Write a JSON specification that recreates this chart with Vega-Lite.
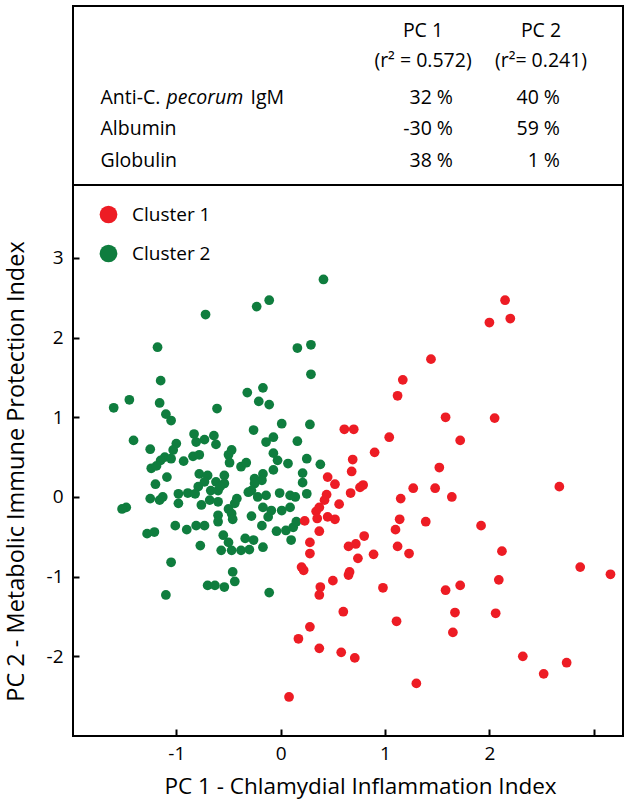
{
  "$schema": "https://vega.github.io/schema/vega-lite/v6.json",
  "padding": {"left": 2, "top": 5, "right": 5, "bottom": 5},
  "bounds": "flush",
  "spacing": 0,
  "config": {
    "font": "Open Sans",
    "view": {"stroke": "#000000", "strokeWidth": 2},
    "axis": {
      "labelFont": "Open Sans", "labelFontSize": 19, "labelColor": "#000000",
      "titleFont": "Open Sans", "titleFontSize": 22.5, "titleFontWeight": "normal", "titleColor": "#000000",
      "tickColor": "#000000", "tickWidth": 2, "domain": false, "grid": false
    },
    "legend": {
      "orient": "none", "legendX": 26, "legendY": 199, "padding": 0,
      "symbolSize": 314, "symbolType": "circle", "symbolStrokeWidth": 0,
      "labelFont": "Open Sans", "labelFontSize": 19, "labelColor": "#000000",
      "labelOffset": 14, "rowPadding": 19
    }
  },
  "vconcat": [
    {
      "width": 550,
      "height": 179,
      "layer": [
        {
          "data": {"values": [
            {"col": "PC 1", "line": "name", "text": "PC 1"},
            {"col": "PC 1", "line": "r2", "text": "(r² = 0.572)"},
            {"col": "PC 2", "line": "name", "text": "PC 2"},
            {"col": "PC 2", "line": "r2", "text": "(r²= 0.241)"}
          ]},
          "mark": {"type": "text", "align": "center", "baseline": "alphabetic", "fontSize": 19.5, "color": "#000000"},
          "encoding": {
            "x": {"field": "col", "type": "nominal", "scale": {"type": "point", "padding": 0, "domain": ["PC 1", "PC 2"], "range": [350, 468]}, "axis": null},
            "y": {"field": "line", "type": "nominal", "scale": {"type": "point", "padding": 0, "domain": ["name", "r2"], "range": [30.7, 60.7]}, "axis": null},
            "text": {"field": "text", "type": "nominal"}
          }
        },
        {
          "data": {"values": [
            {"variable": "Anti-C. pecorum IgM", "col": "PC 1", "value": "32 %"},
            {"variable": "Anti-C. pecorum IgM", "col": "PC 2", "value": "40 %"},
            {"variable": "Albumin", "col": "PC 1", "value": "-30 %"},
            {"variable": "Albumin", "col": "PC 2", "value": "59 %"},
            {"variable": "Globulin", "col": "PC 1", "value": "38 %"},
            {"variable": "Globulin", "col": "PC 2", "value": "1 %"}
          ]},
          "mark": {"type": "text", "align": "right", "baseline": "alphabetic", "fontSize": 19.5, "color": "#000000"},
          "encoding": {
            "x": {"field": "col", "type": "nominal", "scale": {"type": "point", "padding": 0, "domain": ["PC 1", "PC 2"], "range": [380, 487]}, "axis": null},
            "y": {"field": "variable", "type": "nominal", "scale": {"type": "point", "padding": 0, "domain": ["Anti-C. pecorum IgM", "Albumin", "Globulin"], "range": [98, 160.7]}, "axis": null},
            "text": {"field": "value", "type": "nominal"}
          }
        },
        {
          "data": {"values": [
            {"variable": "Anti-C. pecorum IgM", "col": "Variable", "text": "Anti-C."},
            {"variable": "Albumin", "col": "Variable", "text": "Albumin"},
            {"variable": "Globulin", "col": "Variable", "text": "Globulin"}
          ]},
          "mark": {"type": "text", "align": "left", "baseline": "alphabetic", "fontSize": 19.5, "color": "#000000"},
          "encoding": {
            "x": {"field": "col", "type": "nominal", "scale": {"type": "point", "padding": 0, "domain": ["Variable"], "range": [27.5, 27.5]}, "axis": null},
            "y": {"field": "variable", "type": "nominal", "scale": {"type": "point", "padding": 0, "domain": ["Anti-C. pecorum IgM", "Albumin", "Globulin"], "range": [98, 160.7]}, "axis": null},
            "text": {"field": "text", "type": "nominal"}
          }
        },
        {
          "data": {"values": [
            {"variable": "Anti-C. pecorum IgM", "col": "Variable", "text": "pecorum"}
          ]},
          "mark": {"type": "text", "align": "left", "baseline": "alphabetic", "fontSize": 19.5, "fontStyle": "italic", "dx": 66, "color": "#000000"},
          "encoding": {
            "x": {"field": "col", "type": "nominal", "scale": {"type": "point", "padding": 0, "domain": ["Variable"], "range": [27.5, 27.5]}, "axis": null},
            "y": {"field": "variable", "type": "nominal", "scale": {"type": "point", "padding": 0, "domain": ["Anti-C. pecorum IgM", "Albumin", "Globulin"], "range": [98, 160.7]}, "axis": null},
            "text": {"field": "text", "type": "nominal"}
          }
        },
        {
          "data": {"values": [
            {"variable": "Anti-C. pecorum IgM", "col": "Variable", "text": "IgM"}
          ]},
          "mark": {"type": "text", "align": "left", "baseline": "alphabetic", "fontSize": 19.5, "dx": 150, "color": "#000000"},
          "encoding": {
            "x": {"field": "col", "type": "nominal", "scale": {"type": "point", "padding": 0, "domain": ["Variable"], "range": [27.5, 27.5]}, "axis": null},
            "y": {"field": "variable", "type": "nominal", "scale": {"type": "point", "padding": 0, "domain": ["Anti-C. pecorum IgM", "Albumin", "Globulin"], "range": [98, 160.7]}, "axis": null},
            "text": {"field": "text", "type": "nominal"}
          }
        }
      ],
      "resolve": {"scale": {"x": "independent", "y": "independent"}}
    },
    {
      "width": 550,
      "height": 551,
      "data": {"values": [
        {"pc1": 0.41, "pc2": 2.73, "cluster": "Cluster 2"},
        {"pc1": -0.23, "pc2": 2.39, "cluster": "Cluster 2"},
        {"pc1": -0.11, "pc2": 2.47, "cluster": "Cluster 2"},
        {"pc1": -0.72, "pc2": 2.29, "cluster": "Cluster 2"},
        {"pc1": -1.18, "pc2": 1.88, "cluster": "Cluster 2"},
        {"pc1": 0.16, "pc2": 1.87, "cluster": "Cluster 2"},
        {"pc1": 0.29, "pc2": 1.91, "cluster": "Cluster 2"},
        {"pc1": 0.29, "pc2": 1.54, "cluster": "Cluster 2"},
        {"pc1": -1.15, "pc2": 1.46, "cluster": "Cluster 2"},
        {"pc1": -0.32, "pc2": 1.31, "cluster": "Cluster 2"},
        {"pc1": -0.17, "pc2": 1.37, "cluster": "Cluster 2"},
        {"pc1": -1.45, "pc2": 1.22, "cluster": "Cluster 2"},
        {"pc1": -1.60, "pc2": 1.12, "cluster": "Cluster 2"},
        {"pc1": -1.16, "pc2": 1.18, "cluster": "Cluster 2"},
        {"pc1": -0.21, "pc2": 1.20, "cluster": "Cluster 2"},
        {"pc1": -0.11, "pc2": 1.16, "cluster": "Cluster 2"},
        {"pc1": -0.61, "pc2": 1.11, "cluster": "Cluster 2"},
        {"pc1": -1.10, "pc2": 1.04, "cluster": "Cluster 2"},
        {"pc1": -1.05, "pc2": 0.96, "cluster": "Cluster 2"},
        {"pc1": 0.01, "pc2": 0.92, "cluster": "Cluster 2"},
        {"pc1": 0.28, "pc2": 0.91, "cluster": "Cluster 2"},
        {"pc1": -0.26, "pc2": 0.84, "cluster": "Cluster 2"},
        {"pc1": -1.41, "pc2": 0.71, "cluster": "Cluster 2"},
        {"pc1": -0.83, "pc2": 0.79, "cluster": "Cluster 2"},
        {"pc1": -0.81, "pc2": 0.69, "cluster": "Cluster 2"},
        {"pc1": -0.73, "pc2": 0.72, "cluster": "Cluster 2"},
        {"pc1": -0.64, "pc2": 0.77, "cluster": "Cluster 2"},
        {"pc1": -0.62, "pc2": 0.66, "cluster": "Cluster 2"},
        {"pc1": -1.00, "pc2": 0.67, "cluster": "Cluster 2"},
        {"pc1": -1.03, "pc2": 0.59, "cluster": "Cluster 2"},
        {"pc1": -1.25, "pc2": 0.60, "cluster": "Cluster 2"},
        {"pc1": 0.16, "pc2": 0.70, "cluster": "Cluster 2"},
        {"pc1": -0.14, "pc2": 0.69, "cluster": "Cluster 2"},
        {"pc1": -0.07, "pc2": 0.75, "cluster": "Cluster 2"},
        {"pc1": -1.11, "pc2": 0.50, "cluster": "Cluster 2"},
        {"pc1": -1.15, "pc2": 0.46, "cluster": "Cluster 2"},
        {"pc1": -1.05, "pc2": 0.48, "cluster": "Cluster 2"},
        {"pc1": -0.93, "pc2": 0.45, "cluster": "Cluster 2"},
        {"pc1": -0.84, "pc2": 0.51, "cluster": "Cluster 2"},
        {"pc1": -0.78, "pc2": 0.53, "cluster": "Cluster 2"},
        {"pc1": -0.50, "pc2": 0.53, "cluster": "Cluster 2"},
        {"pc1": -0.47, "pc2": 0.59, "cluster": "Cluster 2"},
        {"pc1": -0.49, "pc2": 0.43, "cluster": "Cluster 2"},
        {"pc1": -0.38, "pc2": 0.38, "cluster": "Cluster 2"},
        {"pc1": -0.33, "pc2": 0.43, "cluster": "Cluster 2"},
        {"pc1": -0.07, "pc2": 0.55, "cluster": "Cluster 2"},
        {"pc1": -0.03, "pc2": 0.46, "cluster": "Cluster 2"},
        {"pc1": 0.07, "pc2": 0.42, "cluster": "Cluster 2"},
        {"pc1": 0.25, "pc2": 0.48, "cluster": "Cluster 2"},
        {"pc1": 0.38, "pc2": 0.41, "cluster": "Cluster 2"},
        {"pc1": -1.24, "pc2": 0.36, "cluster": "Cluster 2"},
        {"pc1": -1.19, "pc2": 0.39, "cluster": "Cluster 2"},
        {"pc1": -1.09, "pc2": 0.25, "cluster": "Cluster 2"},
        {"pc1": -0.78, "pc2": 0.29, "cluster": "Cluster 2"},
        {"pc1": -0.70, "pc2": 0.27, "cluster": "Cluster 2"},
        {"pc1": -0.54, "pc2": 0.27, "cluster": "Cluster 2"},
        {"pc1": -0.17, "pc2": 0.29, "cluster": "Cluster 2"},
        {"pc1": -0.07, "pc2": 0.34, "cluster": "Cluster 2"},
        {"pc1": 0.21, "pc2": 0.30, "cluster": "Cluster 2"},
        {"pc1": -0.25, "pc2": 0.23, "cluster": "Cluster 2"},
        {"pc1": 0.21, "pc2": 0.18, "cluster": "Cluster 2"},
        {"pc1": 0.25, "pc2": 0.04, "cluster": "Cluster 2"},
        {"pc1": -0.18, "pc2": 0.21, "cluster": "Cluster 2"},
        {"pc1": -0.25, "pc2": 0.17, "cluster": "Cluster 2"},
        {"pc1": -0.28, "pc2": 0.08, "cluster": "Cluster 2"},
        {"pc1": -0.14, "pc2": 0.02, "cluster": "Cluster 2"},
        {"pc1": -0.01, "pc2": 0.05, "cluster": "Cluster 2"},
        {"pc1": 0.09, "pc2": 0.02, "cluster": "Cluster 2"},
        {"pc1": 0.14, "pc2": 0.00, "cluster": "Cluster 2"},
        {"pc1": -0.73, "pc2": 0.19, "cluster": "Cluster 2"},
        {"pc1": -0.62, "pc2": 0.19, "cluster": "Cluster 2"},
        {"pc1": -0.54, "pc2": 0.17, "cluster": "Cluster 2"},
        {"pc1": -1.20, "pc2": 0.16, "cluster": "Cluster 2"},
        {"pc1": -0.79, "pc2": 0.13, "cluster": "Cluster 2"},
        {"pc1": -0.67, "pc2": 0.08, "cluster": "Cluster 2"},
        {"pc1": -0.60, "pc2": 0.08, "cluster": "Cluster 2"},
        {"pc1": -0.98, "pc2": 0.04, "cluster": "Cluster 2"},
        {"pc1": -0.89, "pc2": 0.05, "cluster": "Cluster 2"},
        {"pc1": -0.82, "pc2": 0.04, "cluster": "Cluster 2"},
        {"pc1": -1.25, "pc2": -0.02, "cluster": "Cluster 2"},
        {"pc1": -1.16, "pc2": -0.04, "cluster": "Cluster 2"},
        {"pc1": -1.13, "pc2": 0.00, "cluster": "Cluster 2"},
        {"pc1": -0.98, "pc2": -0.08, "cluster": "Cluster 2"},
        {"pc1": -0.76, "pc2": -0.10, "cluster": "Cluster 2"},
        {"pc1": -0.68, "pc2": -0.04, "cluster": "Cluster 2"},
        {"pc1": -0.60, "pc2": -0.06, "cluster": "Cluster 2"},
        {"pc1": -0.44, "pc2": -0.08, "cluster": "Cluster 2"},
        {"pc1": -0.42, "pc2": -0.02, "cluster": "Cluster 2"},
        {"pc1": -0.31, "pc2": 0.06, "cluster": "Cluster 2"},
        {"pc1": -0.22, "pc2": 0.00, "cluster": "Cluster 2"},
        {"pc1": -0.17, "pc2": -0.13, "cluster": "Cluster 2"},
        {"pc1": -0.09, "pc2": -0.17, "cluster": "Cluster 2"},
        {"pc1": 0.01, "pc2": -0.17, "cluster": "Cluster 2"},
        {"pc1": 0.09, "pc2": -0.13, "cluster": "Cluster 2"},
        {"pc1": -0.50, "pc2": -0.15, "cluster": "Cluster 2"},
        {"pc1": -0.47, "pc2": -0.21, "cluster": "Cluster 2"},
        {"pc1": -0.60, "pc2": -0.23, "cluster": "Cluster 2"},
        {"pc1": -0.60, "pc2": -0.31, "cluster": "Cluster 2"},
        {"pc1": -0.46, "pc2": -0.28, "cluster": "Cluster 2"},
        {"pc1": -0.28, "pc2": -0.24, "cluster": "Cluster 2"},
        {"pc1": -0.18, "pc2": -0.36, "cluster": "Cluster 2"},
        {"pc1": -0.12, "pc2": -0.25, "cluster": "Cluster 2"},
        {"pc1": -1.48, "pc2": -0.13, "cluster": "Cluster 2"},
        {"pc1": -1.52, "pc2": -0.15, "cluster": "Cluster 2"},
        {"pc1": -1.01, "pc2": -0.36, "cluster": "Cluster 2"},
        {"pc1": -0.90, "pc2": -0.41, "cluster": "Cluster 2"},
        {"pc1": -0.81, "pc2": -0.36, "cluster": "Cluster 2"},
        {"pc1": -0.73, "pc2": -0.36, "cluster": "Cluster 2"},
        {"pc1": -1.28, "pc2": -0.46, "cluster": "Cluster 2"},
        {"pc1": -1.21, "pc2": -0.44, "cluster": "Cluster 2"},
        {"pc1": -0.04, "pc2": -0.43, "cluster": "Cluster 2"},
        {"pc1": 0.05, "pc2": -0.42, "cluster": "Cluster 2"},
        {"pc1": 0.12, "pc2": -0.38, "cluster": "Cluster 2"},
        {"pc1": 0.15, "pc2": -0.31, "cluster": "Cluster 2"},
        {"pc1": 0.10, "pc2": -0.54, "cluster": "Cluster 2"},
        {"pc1": -0.77, "pc2": -0.61, "cluster": "Cluster 2"},
        {"pc1": -0.55, "pc2": -0.48, "cluster": "Cluster 2"},
        {"pc1": -0.50, "pc2": -0.57, "cluster": "Cluster 2"},
        {"pc1": -0.57, "pc2": -0.67, "cluster": "Cluster 2"},
        {"pc1": -0.47, "pc2": -0.67, "cluster": "Cluster 2"},
        {"pc1": -0.38, "pc2": -0.67, "cluster": "Cluster 2"},
        {"pc1": -0.34, "pc2": -0.52, "cluster": "Cluster 2"},
        {"pc1": -0.26, "pc2": -0.54, "cluster": "Cluster 2"},
        {"pc1": -0.30, "pc2": -0.66, "cluster": "Cluster 2"},
        {"pc1": -0.17, "pc2": -0.63, "cluster": "Cluster 2"},
        {"pc1": -1.05, "pc2": -0.82, "cluster": "Cluster 2"},
        {"pc1": -0.46, "pc2": -0.94, "cluster": "Cluster 2"},
        {"pc1": -0.44, "pc2": -1.06, "cluster": "Cluster 2"},
        {"pc1": -0.70, "pc2": -1.11, "cluster": "Cluster 2"},
        {"pc1": -0.63, "pc2": -1.11, "cluster": "Cluster 2"},
        {"pc1": -0.54, "pc2": -1.13, "cluster": "Cluster 2"},
        {"pc1": -1.10, "pc2": -1.23, "cluster": "Cluster 2"},
        {"pc1": -0.11, "pc2": -1.20, "cluster": "Cluster 2"},
        {"pc1": -0.58, "pc2": 0.13, "cluster": "Cluster 2"},
        {"pc1": 2.15, "pc2": 2.47, "cluster": "Cluster 1"},
        {"pc1": 2.00, "pc2": 2.19, "cluster": "Cluster 1"},
        {"pc1": 2.20, "pc2": 2.24, "cluster": "Cluster 1"},
        {"pc1": 1.44, "pc2": 1.73, "cluster": "Cluster 1"},
        {"pc1": 1.17, "pc2": 1.47, "cluster": "Cluster 1"},
        {"pc1": 1.12, "pc2": 1.27, "cluster": "Cluster 1"},
        {"pc1": 1.58, "pc2": 1.00, "cluster": "Cluster 1"},
        {"pc1": 2.05, "pc2": 0.99, "cluster": "Cluster 1"},
        {"pc1": 0.61, "pc2": 0.85, "cluster": "Cluster 1"},
        {"pc1": 0.70, "pc2": 0.85, "cluster": "Cluster 1"},
        {"pc1": 1.04, "pc2": 0.75, "cluster": "Cluster 1"},
        {"pc1": 1.72, "pc2": 0.71, "cluster": "Cluster 1"},
        {"pc1": 0.90, "pc2": 0.56, "cluster": "Cluster 1"},
        {"pc1": 0.69, "pc2": 0.47, "cluster": "Cluster 1"},
        {"pc1": 1.52, "pc2": 0.37, "cluster": "Cluster 1"},
        {"pc1": 0.68, "pc2": 0.32, "cluster": "Cluster 1"},
        {"pc1": 0.45, "pc2": 0.25, "cluster": "Cluster 1"},
        {"pc1": 0.52, "pc2": 0.16, "cluster": "Cluster 1"},
        {"pc1": 2.67, "pc2": 0.13, "cluster": "Cluster 1"},
        {"pc1": 1.27, "pc2": 0.11, "cluster": "Cluster 1"},
        {"pc1": 1.48, "pc2": 0.11, "cluster": "Cluster 1"},
        {"pc1": 1.64, "pc2": 0.00, "cluster": "Cluster 1"},
        {"pc1": 1.15, "pc2": -0.02, "cluster": "Cluster 1"},
        {"pc1": 0.79, "pc2": 0.15, "cluster": "Cluster 1"},
        {"pc1": 0.76, "pc2": 0.12, "cluster": "Cluster 1"},
        {"pc1": 0.67, "pc2": 0.05, "cluster": "Cluster 1"},
        {"pc1": 0.44, "pc2": 0.03, "cluster": "Cluster 1"},
        {"pc1": 0.42, "pc2": -0.04, "cluster": "Cluster 1"},
        {"pc1": 0.56, "pc2": -0.09, "cluster": "Cluster 1"},
        {"pc1": 0.34, "pc2": -0.18, "cluster": "Cluster 1"},
        {"pc1": 0.37, "pc2": -0.13, "cluster": "Cluster 1"},
        {"pc1": 0.45, "pc2": -0.25, "cluster": "Cluster 1"},
        {"pc1": 0.52, "pc2": -0.28, "cluster": "Cluster 1"},
        {"pc1": 0.35, "pc2": -0.27, "cluster": "Cluster 1"},
        {"pc1": 0.23, "pc2": -0.30, "cluster": "Cluster 1"},
        {"pc1": 1.14, "pc2": -0.28, "cluster": "Cluster 1"},
        {"pc1": 1.39, "pc2": -0.31, "cluster": "Cluster 1"},
        {"pc1": 1.92, "pc2": -0.36, "cluster": "Cluster 1"},
        {"pc1": 1.10, "pc2": -0.41, "cluster": "Cluster 1"},
        {"pc1": 0.37, "pc2": -0.43, "cluster": "Cluster 1"},
        {"pc1": 0.80, "pc2": -0.49, "cluster": "Cluster 1"},
        {"pc1": 0.28, "pc2": -0.57, "cluster": "Cluster 1"},
        {"pc1": 0.65, "pc2": -0.62, "cluster": "Cluster 1"},
        {"pc1": 0.72, "pc2": -0.59, "cluster": "Cluster 1"},
        {"pc1": 1.12, "pc2": -0.62, "cluster": "Cluster 1"},
        {"pc1": 0.28, "pc2": -0.71, "cluster": "Cluster 1"},
        {"pc1": 0.74, "pc2": -0.77, "cluster": "Cluster 1"},
        {"pc1": 0.89, "pc2": -0.72, "cluster": "Cluster 1"},
        {"pc1": 1.23, "pc2": -0.71, "cluster": "Cluster 1"},
        {"pc1": 2.12, "pc2": -0.68, "cluster": "Cluster 1"},
        {"pc1": 2.87, "pc2": -0.88, "cluster": "Cluster 1"},
        {"pc1": 3.16, "pc2": -0.97, "cluster": "Cluster 1"},
        {"pc1": 0.22, "pc2": -0.92, "cluster": "Cluster 1"},
        {"pc1": 0.20, "pc2": -0.88, "cluster": "Cluster 1"},
        {"pc1": 0.65, "pc2": -0.98, "cluster": "Cluster 1"},
        {"pc1": 0.66, "pc2": -0.94, "cluster": "Cluster 1"},
        {"pc1": 0.50, "pc2": -1.05, "cluster": "Cluster 1"},
        {"pc1": 2.09, "pc2": -1.04, "cluster": "Cluster 1"},
        {"pc1": 0.38, "pc2": -1.13, "cluster": "Cluster 1"},
        {"pc1": 0.37, "pc2": -1.23, "cluster": "Cluster 1"},
        {"pc1": 0.98, "pc2": -1.14, "cluster": "Cluster 1"},
        {"pc1": 1.58, "pc2": -1.17, "cluster": "Cluster 1"},
        {"pc1": 1.72, "pc2": -1.11, "cluster": "Cluster 1"},
        {"pc1": 0.60, "pc2": -1.44, "cluster": "Cluster 1"},
        {"pc1": 1.67, "pc2": -1.45, "cluster": "Cluster 1"},
        {"pc1": 2.06, "pc2": -1.46, "cluster": "Cluster 1"},
        {"pc1": 1.11, "pc2": -1.56, "cluster": "Cluster 1"},
        {"pc1": 1.65, "pc2": -1.70, "cluster": "Cluster 1"},
        {"pc1": 0.28, "pc2": -1.63, "cluster": "Cluster 1"},
        {"pc1": 0.17, "pc2": -1.78, "cluster": "Cluster 1"},
        {"pc1": 0.37, "pc2": -1.90, "cluster": "Cluster 1"},
        {"pc1": 0.58, "pc2": -1.95, "cluster": "Cluster 1"},
        {"pc1": 0.71, "pc2": -2.02, "cluster": "Cluster 1"},
        {"pc1": 2.32, "pc2": -2.00, "cluster": "Cluster 1"},
        {"pc1": 2.74, "pc2": -2.08, "cluster": "Cluster 1"},
        {"pc1": 2.52, "pc2": -2.22, "cluster": "Cluster 1"},
        {"pc1": 1.30, "pc2": -2.34, "cluster": "Cluster 1"},
        {"pc1": 0.08, "pc2": -2.51, "cluster": "Cluster 1"}
      ]},
      "mark": {"type": "circle", "size": 95, "opacity": 1},
      "encoding": {
        "x": {
          "field": "pc1", "type": "quantitative",
          "scale": {"domain": [-1.99, 3.28], "nice": false, "zero": false},
          "axis": {
            "values": [-1, 0, 1, 2, 3],
            "labelExpr": "datum.value === 3 ? '' : replace(datum.label, '\u2212', '-')",
            "tickSize": -7, "labelPadding": 30, "labelBaseline": "alphabetic",
            "title": "PC 1 - Chlamydial Inflammation Index",
            "titleX": 287, "titleY": 57, "titleAlign": "center", "titleBaseline": "alphabetic"
          }
        },
        "y": {
          "field": "pc2", "type": "quantitative",
          "scale": {"domain": [-3, 3.916], "nice": false, "zero": false},
          "axis": {
            "values": [-2, -1, 0, 1, 2, 3],
            "labelExpr": "replace(datum.label, '\u2212', '-')",
            "tickSize": -6, "labelPadding": 16,
            "title": "PC 2 - Metabolic Immune Protection Index",
            "titleFontSize": 23.5,
            "titleX": -50, "titleY": 286, "titleAngle": 270, "titleAlign": "center", "titleBaseline": "alphabetic"
          }
        },
        "color": {
          "field": "cluster", "type": "nominal",
          "scale": {"domain": ["Cluster 1", "Cluster 2"], "range": ["#ED1C24", "#0F7D3E"]},
          "legend": {"title": null}
        }
      }
    }
  ]
}
